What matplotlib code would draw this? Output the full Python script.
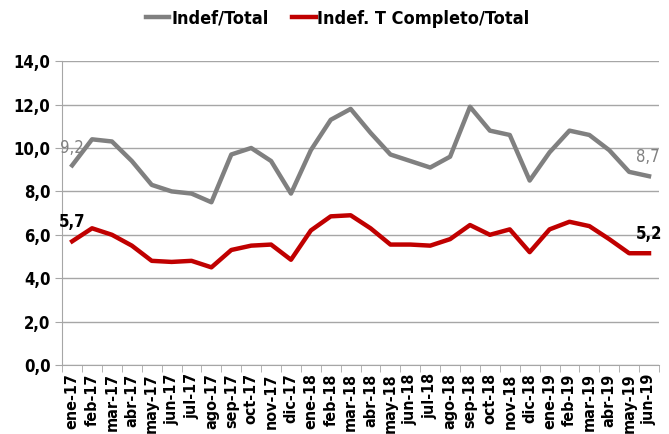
import numpy as np
import matplotlib.pyplot as plt
from matplotlib import font_manager

# fuente estrecha si existe (parecida a Calibri)
cond = [f for f in font_manager.fontManager.ttflist
        if f.name == 'DejaVu Sans' and 'condensed' in str(f.stretch)]
if cond:
    plt.rcParams['font.family'] = ['DejaVu Sans']
    plt.rcParams['font.stretch'] = 'condensed'
else:
    plt.rcParams['font.family'] = ['Liberation Sans', 'DejaVu Sans']

meses = ['ene-17', 'feb-17', 'mar-17', 'abr-17', 'may-17', 'jun-17', 'jul-17', 'ago-17',
         'sep-17', 'oct-17', 'nov-17', 'dic-17', 'ene-18', 'feb-18', 'mar-18', 'abr-18',
         'may-18', 'jun-18', 'jul-18', 'ago-18', 'sep-18', 'oct-18', 'nov-18', 'dic-18',
         'ene-19', 'feb-19', 'mar-19', 'abr-19', 'may-19', 'jun-19']
indef_total = [9.2, 10.4, 10.3, 9.4, 8.3, 8.0, 7.9, 7.5, 9.7, 10.0, 9.4, 7.9,
               9.9, 11.3, 11.8, 10.7, 9.7, 9.4, 9.1, 9.6, 11.9, 10.8, 10.6, 8.5,
               9.8, 10.8, 10.6, 9.9, 8.9, 8.7]
indef_tc_total = [5.7, 6.3, 6.0, 5.5, 4.8, 4.75, 4.8, 4.5, 5.3, 5.5, 5.55, 4.85,
                  6.2, 6.85, 6.9, 6.3, 5.55, 5.55, 5.5, 5.8, 6.45, 6.0, 6.25, 5.2,
                  6.25, 6.6, 6.4, 5.8, 5.15, 5.15]

fig = plt.figure(figsize=(6.69, 4.34), dpi=100)
ax = fig.add_axes([0.093, 0.159, 0.892, 0.7])

x = np.arange(len(meses))
gris = '#808080'
rojo = '#C00000'
ax.plot(x, indef_total, color=gris, lw=3.2, label='Indef/Total')
ax.plot(x, indef_tc_total, color=rojo, lw=3.2, label='Indef. T Completo/Total')

def fmt(v):
    return f'{v:.1f}'.replace('.', ',')

ax.annotate(fmt(indef_total[0]), (x[0], indef_total[0]), xytext=(0, 9), textcoords='offset points',
            ha='center', color=gris, fontsize=12)
ax.annotate(fmt(indef_total[-1]), (x[-1], indef_total[-1]), xytext=(-1, 10), textcoords='offset points',
            ha='center', color=gris, fontsize=12)
ax.annotate(fmt(indef_tc_total[0]), (x[0], indef_tc_total[0]), xytext=(0, 10), textcoords='offset points',
            ha='center', color='black', fontsize=12, fontweight='bold')
ax.annotate(fmt(indef_tc_total[-1]), (x[-1], indef_tc_total[-1]), xytext=(0, 10), textcoords='offset points',
            ha='center', color='black', fontsize=12, fontweight='bold')

ax.set_xlim(-0.5, len(meses) - 0.5)
ax.set_ylim(0, 14)
yt = np.arange(0, 14.1, 2)
ax.set_yticks(yt)
ax.set_yticklabels([fmt(v) for v in yt], fontsize=12, fontweight='bold')
ax.grid(axis='y', color='#a6a6a6', lw=1)
ax.set_axisbelow(True)

ax.set_xticks(x)
ax.set_xticklabels(meses, rotation=90, fontsize=11.5, fontweight='bold')
ax.set_xticks(np.arange(-0.5, len(meses)), minor=True)
ax.tick_params(axis='x', which='major', length=0, pad=6)
ax.tick_params(axis='x', which='minor', length=5, color='#a6a6a6')
ax.tick_params(axis='y', length=5, color='#a6a6a6')

for s in ['top', 'right']:
    ax.spines[s].set_visible(False)
for s in ['left', 'bottom']:
    ax.spines[s].set_color('#a6a6a6')

fig.legend(loc='upper center', bbox_to_anchor=(0.505, 1.015), ncol=2, frameon=False,
           prop={'weight': 'bold', 'size': 13}, handlelength=1.3, handletextpad=0.1,
           columnspacing=1.3)

fig.savefig('out.png', dpi=100)
